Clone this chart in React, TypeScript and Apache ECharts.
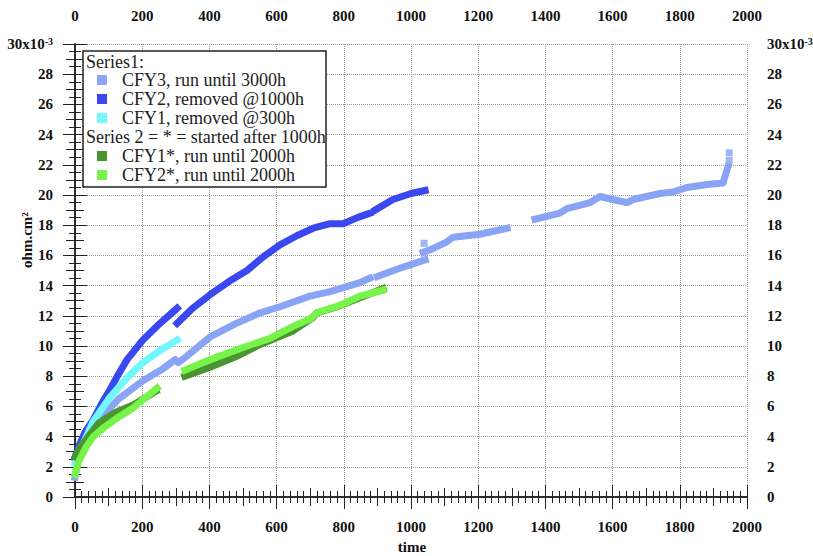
import React, { useEffect, useRef } from "react";
import * as echarts from "echarts";

// time (h), value in 1e-3 ohm.cm2; null = gap
const cfy3: (number[] | null)[] = [
  [0, 1.3], [10, 2.6], [30, 3.8], [54, 4.7], [83, 5.4], [130, 6.5], [202, 7.7], [262, 8.5], [298, 9.1],
  [307, 8.9], [320, 9.1], [402, 10.6], [480, 11.5], [551, 12.2], [610, 12.6], [699, 13.3], [759, 13.6],
  [789, 13.8], [848, 14.2], [878, 14.5], null,
  [900, 14.6], [960, 15.1], [1042, 15.7], null,
  [1036, 16.2], [1060, 16.4], [1107, 16.9], [1125, 17.2], [1205, 17.4], [1286, 17.8], null,
  [1369, 18.4], [1443, 18.8], [1464, 19.1], [1533, 19.5], [1562, 19.9], [1601, 19.7], [1643, 19.5],
  [1661, 19.7], [1741, 20.1], [1780, 20.2], [1821, 20.5], [1881, 20.7], [1929, 20.8], [1934, 21.2], [1944, 21.9],
];
const cfy3Isolated: number[][] = [[1039, 16.8], [1947, 22.3], [1947, 22.8]];

const cfy2: (number[] | null)[] = [
  [0, 2.6], [10, 3.3], [30, 4.3], [54, 5.1], [80, 6.2], [104, 7.1], [131, 8.2], [155, 9.1], [202, 10.4],
  [253, 11.5], [304, 12.5], null,
  [304, 11.5], [350, 12.5], [402, 13.4], [460, 14.3], [512, 15.0], [560, 15.9], [610, 16.7], [660, 17.3],
  [709, 17.8], [759, 18.1], [798, 18.1], [840, 18.5], [878, 18.8], null,
  [893, 19.0], [946, 19.7], [1000, 20.1], [1042, 20.3],
];

const cfy1: number[][] = [
  [0, 2.2], [20, 3.3], [54, 5.0], [104, 6.6], [155, 7.9], [202, 8.9], [253, 9.7], [304, 10.4],
];

const cfy1s: (number[] | null)[] = [
  [0, 2.65], [15, 3.3], [36, 3.9], [71, 4.9], [120, 5.6], [173, 6.1], [241, 7.0], null,
  [327, 8.0], [402, 8.6], [480, 9.3], [551, 10.1], [649, 11.0], [709, 11.9], [720, 12.2], [780, 12.6],
  [848, 13.2], [917, 13.8],
];

const cfy2s: (number[] | null)[] = [
  [0, 1.5], [10, 2.3], [33, 3.3], [54, 4.0], [92, 4.7], [130, 5.3], [173, 5.9], [244, 7.2], null,
  [327, 8.4], [402, 9.1], [500, 9.9], [580, 10.5], [649, 11.3], [700, 11.8], [720, 12.2], [790, 12.7],
  [848, 13.3], [917, 13.7],
];

const legendNames = [
  "CFY3, run until 3000h",
  "CFY2, removed @1000h",
  "CFY1, removed @300h",
  "CFY1*, run until 2000h",
  "CFY2*, run until 2000h",
];
const colors = ["#89a3f5", "#3b47ef", "#70f8fc", "#4a9530", "#78f34a"];

const FONT = "'Liberation Serif', 'DejaVu Serif', serif";

export default function App() {
  const ref = useRef<HTMLDivElement>(null);
  useEffect(() => {
    const chart = echarts.init(ref.current!, null, { renderer: "svg" });
    const toData = (arr: (number[] | null)[]) => arr.map((p) => (p ? p : [null, null]));
    const lineSeries = (name: string, data: (number[] | null)[], color: string) => ({
      name,
      type: "line",
      data: toData(data),
      showSymbol: false,
      symbol: "none",
      connectNulls: false,
      lineStyle: { color, width: 7, cap: "square", join: "round" },
      itemStyle: { color },
      xAxisIndex: 0,
      yAxisIndex: 0,
      silent: true,
    });
    const labelStyle = { fontFamily: FONT, fontWeight: "bold", fontSize: 15, color: "#111" };
    const yFormatter = (v: number) => (v === 30 ? "{a|30x10}{s|-3}" : String(v));
    const yRich = {
      a: { fontFamily: FONT, fontWeight: "bold", fontSize: 15, color: "#111" },
      s: { fontFamily: FONT, fontWeight: "bold", fontSize: 10, color: "#111", verticalAlign: "top", padding: [0, 0, 6, 0] },
    };
    const mainX = (position: string, offset: number, withGrid: boolean) => ({
      type: "value",
      position,
      offset,
      min: 0,
      max: 2000,
      interval: 200,
      axisLine: { show: true, lineStyle: { color: "#222", width: 1.5 } },
      axisTick: { show: true, inside: false, length: 12, lineStyle: { color: "#222" } },
      minorTick: { show: true, splitNumber: 10, length: 6, lineStyle: { color: "#222" } },
      axisLabel: { ...labelStyle, margin: 19, formatter: (v: number) => String(v) },
      splitLine: withGrid ? { show: true, lineStyle: { color: "#9a9a9a", type: "dotted", width: 1 } } : { show: false },
      minorSplitLine: { show: false },
    });
    const medX = (position: string, offset: number) => ({
      type: "value",
      position,
      offset,
      min: 0,
      max: 2000,
      interval: 100,
      axisLine: { show: false },
      axisTick: { show: true, length: 9, lineStyle: { color: "#222" } },
      axisLabel: { show: false },
      splitLine: { show: false },
    });
    const mainY = (position: string, offset: number, withGrid: boolean) => ({
      type: "value",
      position,
      offset,
      min: 0,
      max: 30,
      interval: 2,
      axisLine: { show: true, lineStyle: { color: "#222", width: 1.5 } },
      axisTick: { show: true, length: 12, lineStyle: { color: "#222" } },
      minorTick: { show: true, splitNumber: 4, length: 6, lineStyle: { color: "#222" } },
      axisLabel: { ...labelStyle, margin: 19, formatter: yFormatter, rich: yRich },
      splitLine: withGrid ? { show: true, lineStyle: { color: "#9a9a9a", type: "dotted", width: 1 } } : { show: false },
      minorSplitLine: { show: false },
    });
    const medY = (position: string, offset: number) => ({
      type: "value",
      position,
      offset,
      min: 0,
      max: 30,
      interval: 1,
      axisLine: { show: false },
      axisTick: { show: true, length: 9, lineStyle: { color: "#222" } },
      axisLabel: { show: false },
      splitLine: { show: false },
    });

    const legendRowY = [80, 99, 118, 156, 175];
    const LFONT = `18px ${FONT}`;
    const graphics: any[] = [
      {
        type: "rect",
        shape: { x: 83, y: 51, width: 243, height: 136 },
        style: { fill: "#fff", stroke: "#222", lineWidth: 1.5 },
        z: 100,
      },
      {
        type: "text",
        x: 86,
        y: 62,
        style: { text: "Series1:", font: LFONT, fill: "#222", verticalAlign: "middle" },
        z: 101,
      },
      {
        type: "text",
        x: 86,
        y: 137,
        style: { text: "Series 2 = * = started after 1000h", font: LFONT, fill: "#222", verticalAlign: "middle" },
        z: 101,
      },
      {
        type: "text",
        x: 27,
        y: 240,
        rotation: Math.PI / 2,
        style: { text: "ohm.cm²", font: `bold 15px ${FONT}`, fill: "#111", align: "center", verticalAlign: "middle" },
        z: 101,
      },
      {
        type: "text",
        x: 412,
        y: 547,
        style: { text: "time", font: `bold 15px ${FONT}`, fill: "#111", align: "center", verticalAlign: "middle" },
        z: 101,
      },
    ];
    legendNames.forEach((n, i) => {
      graphics.push({
        type: "rect",
        shape: { x: 97, y: legendRowY[i] - 5, width: 10, height: 10 },
        style: { fill: colors[i] },
        z: 101,
      });
      graphics.push({
        type: "text",
        x: 122,
        y: legendRowY[i],
        style: { text: n, font: LFONT, fill: "#222", verticalAlign: "middle" },
        z: 101,
      });
    });

    chart.setOption({
      animation: false,
      backgroundColor: "#fff",
      grid: { left: 75, right: 66, top: 44, bottom: 59, containLabel: false, outerBoundsMode: "none" },
      xAxis: [mainX("bottom", 3, true), mainX("top", 2, false), medX("bottom", 3), medX("top", 2)],
      yAxis: [mainY("left", 3, true), mainY("right", 1, false), medY("left", 3), medY("right", 1)],
      series: [
        lineSeries(legendNames[0], cfy3, colors[0]),
        {
          name: legendNames[0] + " pts",
          type: "scatter",
          data: cfy3Isolated,
          symbol: "rect",
          symbolSize: 7,
          itemStyle: { color: colors[0] },
          silent: true,
        },
        lineSeries(legendNames[1], cfy2, colors[1]),
        lineSeries(legendNames[2], cfy1, colors[2]),
        lineSeries(legendNames[3], cfy1s, colors[3]),
        lineSeries(legendNames[4], cfy2s, colors[4]),
      ],
      graphic: graphics,
    });
    return () => chart.dispose();
  }, []);
  return <div ref={ref} style={{ width: 813, height: 556, position: "absolute", left: 0, top: 0 }} />;
}
